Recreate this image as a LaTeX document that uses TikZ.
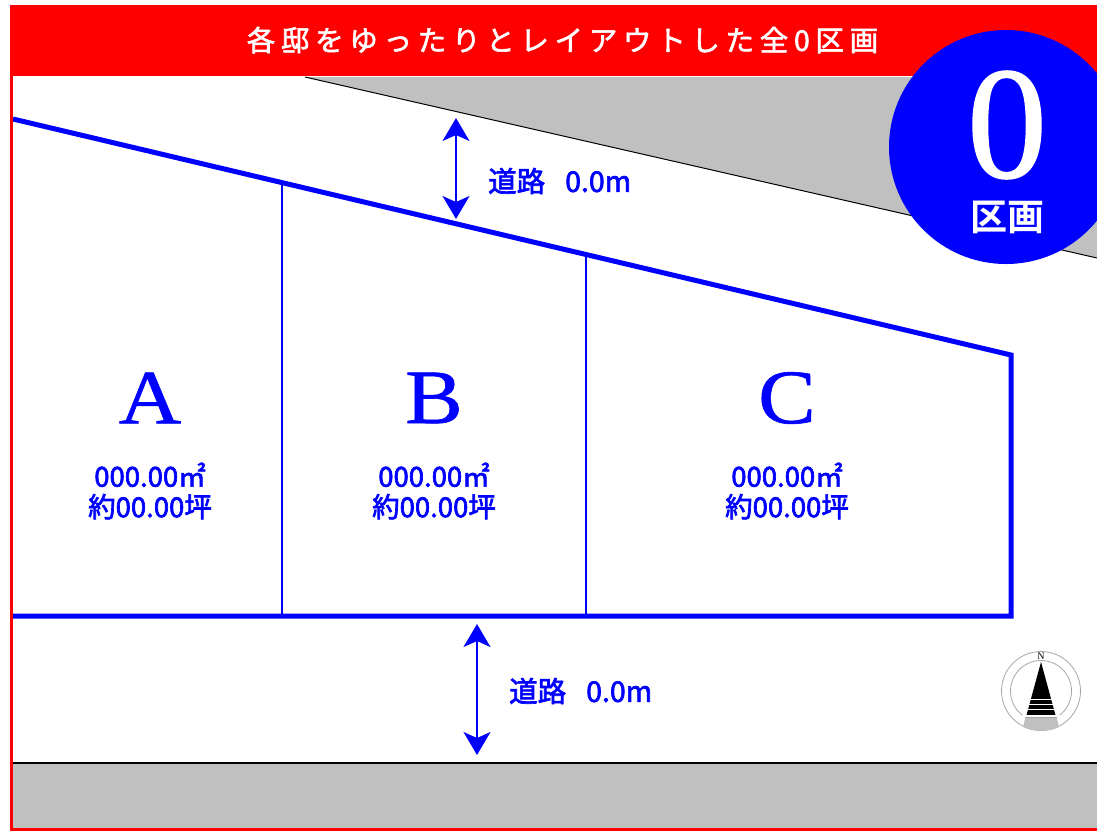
\documentclass[tikz,border=0pt]{standalone}
\usepackage{fontspec}
\usepackage{tikz}
\usetikzlibrary{arrows.meta}
\setmainfont{Liberation Serif}
\newfontfamily\cjk[BoldFont={Noto Sans CJK JP Bold}]{Noto Sans CJK JP}
\definecolor{lotblue}{RGB}{0,0,255}
\definecolor{framered}{RGB}{255,0,0}
\definecolor{roadgray}{RGB}{192,192,192}
\newcommand{\fsz}[1]{\fontsize{#1}{#1}\selectfont}
\tikzset{
    lotname/.style={text=lotblue, inner sep=0pt, font=\fsz{77}\addfontfeature{FakeStretch=1.12,FakeBold=0.8}},
    lotarea/.style={text=lotblue, align=center, inner sep=0pt, font=\cjk\fsz{27.5}\addfontfeature{FakeBold=2.4}},
    roadlabel/.style={text=lotblue, anchor=west, inner sep=0pt, font=\cjk\fsz{28.5}\addfontfeature{FakeBold=2.4}},
    roadarrow/.style={draw=lotblue, line width=1.6pt, {Stealth[length=23pt,width=27pt,inset=6pt]}-{Stealth[length=23pt,width=27pt,inset=6pt]}}
}
\begin{document}
\begin{tikzpicture}[x=1pt,y=-1pt]
        \clip (0,0) rectangle (1097,831);
        \useasboundingbox (0,0) rectangle (1097,831);

        % Define Variables
        \def\lR{13}
        \def\rR{1011}
        \def\lotTop{616}

        % Roads
        \fill[roadgray] (305,77) -- (1097,258) -- (1097,77) -- cycle;
        \draw[line width=1pt] (305,77) -- (1097,258);
        \fill[roadgray] (\lR,763) rectangle (1097,828);
        \draw[line width=1.1pt] (\lR,763) -- (1097,763);

        % Lots
        \coordinate (lot-nw) at (\lR,119);
        \coordinate (lot-ne) at (\rR,355);
        \coordinate (lot-se) at (\rR,\lotTop);
        \coordinate (lot-sw) at (\lR,\lotTop);
        \draw[lotblue, line width=5pt] (lot-nw) -- (lot-ne) -- (lot-se) -- (lot-sw);
        \coordinate (ab-top) at (282,181);
        \coordinate (ab-bot) at (282,\lotTop);
        \coordinate (bc-top) at (586,254);
        \coordinate (bc-bot) at (586,\lotTop);
        \draw[lotblue, line width=1.3pt] (ab-top) -- (ab-bot);
        \draw[lotblue, line width=1.3pt] (bc-top) -- (bc-bot);

        \node[lotname] at (150,398) (lot-a) {A};
        \node[lotname] at (434,398) (lot-b) {B};
        \node[lotname] at (787,398) (lot-c) {C};
        \node[lotarea] at (150,491) (area-a) {000.00㎡\\[3pt]約00.00坪};
        \node[lotarea] at (434,491) (area-b) {000.00㎡\\[3pt]約00.00坪};
        \node[lotarea] at (787,491) (area-c) {000.00㎡\\[3pt]約00.00坪};

        % Road widths
        \coordinate (upper-t) at (456,118);
        \coordinate (upper-b) at (456,219);
        \draw[roadarrow] (upper-t) -- (upper-b);
        \node[roadlabel] at (488,181) (upper-road) {道路\hspace{20pt}0.0m};
        \coordinate (lower-t) at (477,624);
        \coordinate (lower-b) at (477,755);
        \draw[roadarrow] (lower-t) -- (lower-b);
        \node[roadlabel] at (509,691) (lower-road) {道路\hspace{20pt}0.0m};

        % Compass
        \draw[gray!70, line width=0.8pt] (1041,691) circle (39.5);
        \draw[gray!70, line width=0.8pt] (1041,691) circle (30.5);
        \fill[roadgray] (1025.5,717) -- (1056.5,717) -- (1059,727) .. controls (1050,732) and (1032,732) .. (1023,727) -- cycle;
        \fill (1041,662) -- (1056,717) -- (1026,717) -- cycle;
        \foreach \gapY/\gapH in {699/0.8,704/1.4,709/1.4,715/2.2}
            \fill[white] (1020,\gapY) rectangle (1062,\gapY+\gapH);
        \node[font=\fsz{10}, inner sep=0pt] at (1041,656) (north) {N};

        % Header
        \fill[framered] (10,5) rectangle (1097,76);
        \fill[framered] (10,76) rectangle (\lR,831);
        \fill[framered] (10,828) rectangle (1097,831);
        \node[text=white, font=\cjk\fsz{28.5}\addfontfeature{LetterSpace=20,FakeBold=2}] at (562.5,40) (title) {各邸をゆったりとレイアウトした全0区画};

        % Badge
        \fill[lotblue] (1006,147) circle (117);
        \node[text=white, font=\fsz{160}\addfontfeature{FakeBold=1}, inner sep=0pt] at (1007,125) (badge-num) {0};
        \node[text=white, font=\cjk\bfseries\fsz{37}, inner sep=0pt] at (1007,217) (badge-unit) {区画};
\end{tikzpicture}
\end{document}
